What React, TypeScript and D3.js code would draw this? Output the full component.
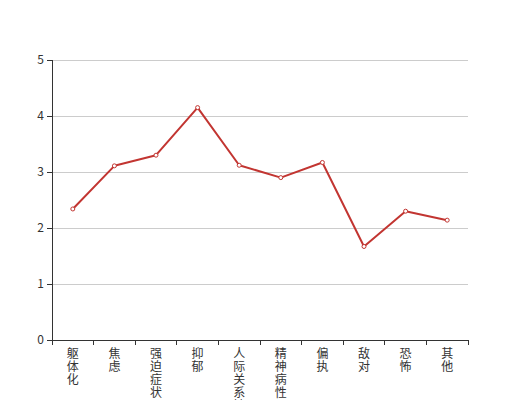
import React from "react";
import * as d3 from "d3";

const categories = ["躯体化", "焦虑", "强迫症状", "抑郁", "人际关系敏感", "精神病性", "偏执", "敌对", "恐怖", "其他"];
const values = [2.34, 3.11, 3.3, 4.15, 3.12, 2.9, 3.17, 1.67, 2.3, 2.14];
const yTicks = [0, 1, 2, 3, 4, 5];

const W = 520;
const H = 400;
const left = 52;
const right = 468;
const top = 60;
const bottom = 340;
const font = "'Noto Sans CJK SC', 'Noto Sans', sans-serif";

export default function App() {
  const x = d3.scaleBand<string>().domain(categories).range([left, right]);
  const y = d3.scaleLinear().domain([0, 5]).range([bottom, top]);
  const line = d3
    .line<number>()
    .x((_, i) => (x(categories[i]) as number) + x.bandwidth() / 2)
    .y((d) => y(d));
  const color = "#c23531";
  const boundaries = categories.map((c) => x(c) as number).concat([right]);

  return (
    <svg width={W} height={H} style={{ position: "absolute", left: 0, top: 0 }}>
      <rect width={W} height={H} fill="#fff" />
      {yTicks.filter((t) => t !== 0).map((t) => (
        <line key={"g" + t} x1={left} x2={right} y1={y(t)} y2={y(t)} stroke="#ccc" strokeWidth={1} shapeRendering="crispEdges" />
      ))}
      {/* y axis */}
      <line x1={left} x2={left} y1={top} y2={bottom} stroke="#333" strokeWidth={1} shapeRendering="crispEdges" />
      {yTicks.map((t) => (
        <g key={"y" + t}>
          <line x1={left - 5} x2={left} y1={y(t)} y2={y(t)} stroke="#333" shapeRendering="crispEdges" />
          <text x={left - 8} y={y(t)} dy="0.35em" textAnchor="end" fontSize={12} fill="#333" fontFamily={font}>
            {t}
          </text>
        </g>
      ))}
      {/* x axis */}
      <line x1={left} x2={right} y1={bottom} y2={bottom} stroke="#333" strokeWidth={1} shapeRendering="crispEdges" />
      {boundaries.map((b, i) => (
        <line key={"xt" + i} x1={b} x2={b} y1={bottom} y2={bottom + 5} stroke="#333" shapeRendering="crispEdges" />
      ))}
      {categories.map((c) => {
        const cx = (x(c) as number) + x.bandwidth() / 2;
        return (
          <g key={c}>
            {Array.from(c).map((ch, j) => (
              <text key={j} x={cx} y={bottom + 17.5 + j * 13} textAnchor="middle" fontSize={12} fill="#333" fontFamily={font}>
                {ch}
              </text>
            ))}
          </g>
        );
      })}
      <path d={line(values) || ""} fill="none" stroke={color} strokeWidth={2} strokeLinejoin="bevel" />
      {values.map((v, i) => (
        <circle
          key={"p" + i}
          cx={(x(categories[i]) as number) + x.bandwidth() / 2}
          cy={y(v)}
          r={2}
          fill="#fff"
          stroke={color}
          strokeWidth={1}
        />
      ))}
    </svg>
  );
}
